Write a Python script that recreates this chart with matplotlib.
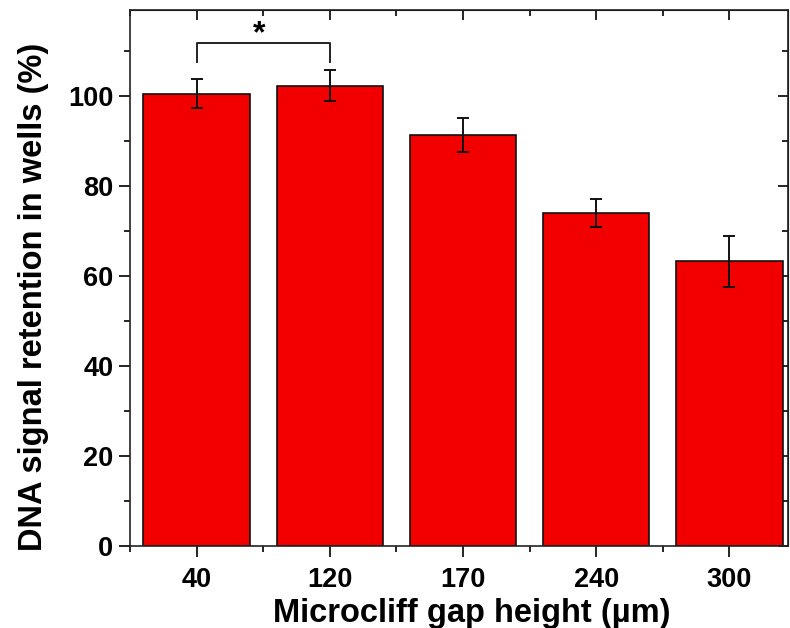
import matplotlib
matplotlib.use("Agg")
import matplotlib.pyplot as plt
from matplotlib.ticker import MultipleLocator, FixedLocator

# Retention data per gap height
gap_heights = ["40", "120", "170", "240", "300"]
retention = [100.4, 102.2, 91.3, 73.9, 63.2]
retention_err = [3.2, 3.5, 3.8, 3.1, 5.65]

# Significance bracket between 40 and 120 um
sig_pair = (0, 1)
sig_leg_bottom = 107.5
sig_bar_level = 111.6
sig_mark = "*"

plt.rcParams['font.family'] = ['Liberation Sans', 'DejaVu Sans']
plt.rcParams['font.weight'] = 'bold'

fig = plt.figure(figsize=(7.9, 6.28), dpi=100)
ax = fig.add_axes([130 / 790, 82 / 628, 658 / 790, 536 / 628])

x = list(range(len(gap_heights)))
ax.bar(x, retention, width=0.8, color='#f20000', edgecolor='#111111', linewidth=1.2,
       yerr=retention_err, capsize=4.5,
       error_kw=dict(ecolor='#111111', elinewidth=1.4, capthick=1.4), zorder=2)

# Significance bracket
x0, x1 = sig_pair
ax.plot([x0, x0, x1, x1], [sig_leg_bottom, sig_bar_level, sig_bar_level, sig_leg_bottom],
        color='#222222', linewidth=1.4, zorder=3)
ax.text((x0 + x1) / 2 - 0.03, sig_bar_level - 1.3, sig_mark, ha='center', va='bottom',
        fontsize=23, fontweight='bold')

ax.set_xlim(-0.5, 4.44)
ax.set_ylim(0, 119)
ax.set_xticks(x)
ax.set_xticklabels(gap_heights)
ax.xaxis.set_minor_locator(FixedLocator([i + 0.5 for i in range(-1, len(x))]))
ax.yaxis.set_major_locator(MultipleLocator(20))
ax.yaxis.set_minor_locator(MultipleLocator(10))

for s in ax.spines.values():
    s.set_linewidth(1.2)
    s.set_color('#222222')

ax.tick_params(which='major', direction='out', length=8, width=1.2, labelsize=19.5)
ax.tick_params(which='minor', direction='out', length=4, width=1.2)
ax.tick_params(axis='y', which='major', pad=4)
ax.tick_params(axis='x', which='major', pad=7)

# Inward ticks on top and right, no labels
top = ax.secondary_xaxis('top')
top.set_xticks(x)
top.xaxis.set_minor_locator(FixedLocator([i + 0.5 for i in range(-1, len(x))]))
top.tick_params(which='major', direction='in', length=7, width=1.2, labeltop=False)
top.tick_params(which='minor', direction='in', length=4, width=1.2)
right = ax.secondary_yaxis('right')
right.yaxis.set_major_locator(MultipleLocator(20))
right.yaxis.set_minor_locator(MultipleLocator(10))
right.tick_params(which='major', direction='in', length=7, width=1.2, labelright=False)
right.tick_params(which='minor', direction='in', length=4, width=1.2)

for t in ax.get_xticklabels() + ax.get_yticklabels():
    t.set_fontweight('bold')

ax.set_xlabel("Microcliff gap height (µm)", fontsize=23.5, fontweight='bold', labelpad=4)
ax.set_ylabel("DNA signal retention in wells (%)", fontsize=23.5, fontweight='bold', labelpad=14)
ax.xaxis.label.set_x(0.52)
ax.yaxis.label.set_y(0.464)

fig.savefig("out.png", dpi=100)
